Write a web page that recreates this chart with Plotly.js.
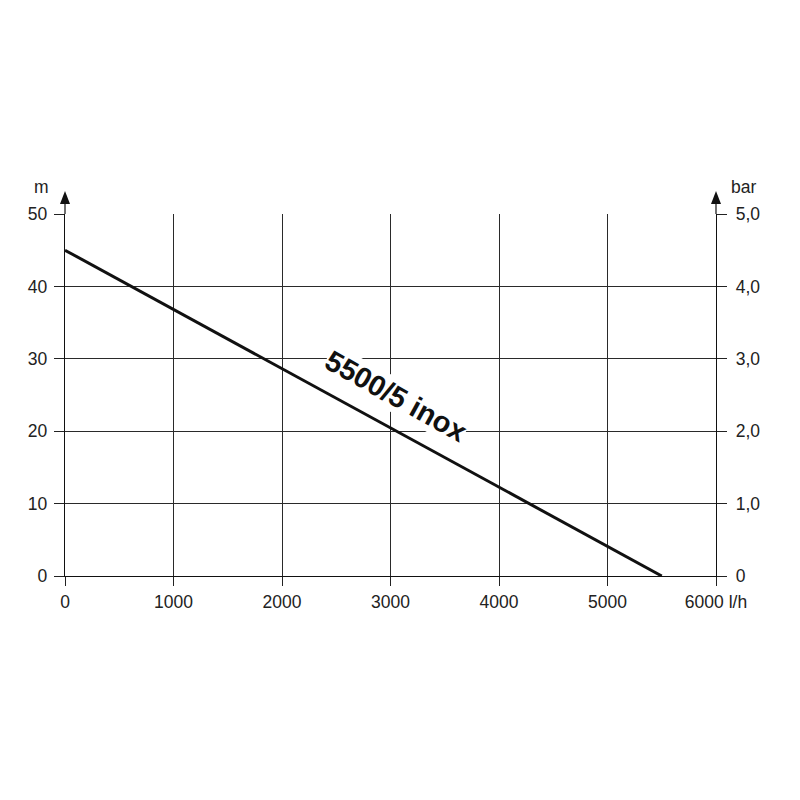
<!DOCTYPE html>
<html><head><meta charset="utf-8">
<script src="https://cdn.plot.ly/plotly-3.0.1.min.js"></script>
<style>html,body{margin:0;padding:0;background:#fff}#chart{width:800px;height:800px}</style>
</head><body><div id="chart"></div>
<script>
// Data
const flow = [0, 5500];          // l/h
const head = [45, 0];            // m
const headBar = [4.5, 0];        // bar
const xTicks = [0, 1000, 2000, 3000, 4000, 5000, 6000];
const xTickText = ["0", "1000", "2000", "3000", "4000", "5000", "6000 l/h"];
const yTicks = [0, 10, 20, 30, 40, 50];
const yTickText = ["0", "10", "20", "30", "40", "50"];
const y2Ticks = [0, 1, 2, 3, 4, 5];
const y2TickText = ["0", "1,0", "2,0", "3,0", "4,0", "5,0"];
const curveLabel = "5500/5 inox";

const fontFam = "Liberation Sans, Arial, sans-serif";
const ink = "#222";
const fs = 17.5;

const traces = [
  {x: flow, y: head, type: "scatter", mode: "lines", line: {color: "#111", width: 3}, hoverinfo: "skip", showlegend: false},
  {x: flow, y: headBar, yaxis: "y2", type: "scatter", mode: "lines", line: {color: "rgba(0,0,0,0)", width: 0}, hoverinfo: "skip", showlegend: false}
];

const plotW = 651, plotH = 362;
const px = p => p / plotW, py = p => p / plotH;

const arrow = (xp) => ({
  type: "path", xref: "paper", yref: "paper",
  path: `M ${xp - px(5)} ${1 + py(10)} L ${xp + px(5)} ${1 + py(10)} L ${xp} ${1 + py(23)} Z`,
  fillcolor: "#111", line: {color: "#111", width: 0}
});
const stem = (xp) => ({
  type: "line", xref: "paper", yref: "paper", x0: xp, x1: xp, y0: 1, y1: 1 + py(11),
  line: {color: "#111", width: 1.2}
});

const axisCommon = {
  zeroline: false, showline: true, linecolor: "#111", linewidth: 1.2,
  ticks: "outside", tickcolor: "#222", tickwidth: 1, fixedrange: true,
  tickfont: {size: fs, color: ink, family: fontFam}
};

const layout = {
  width: 800, height: 800,
  margin: {l: 65, r: 84, t: 214, b: 224, pad: 0},
  paper_bgcolor: "#fff", plot_bgcolor: "#fff",
  font: {family: fontFam, size: fs, color: ink},
  xaxis: Object.assign({}, axisCommon, {
    range: [0, 6000], tickvals: xTicks, ticktext: xTickText,
    showgrid: true, gridcolor: "#2a2a2a", gridwidth: 1,
    ticklen: 9, ticklabelstandoff: 1
  }),
  yaxis: Object.assign({}, axisCommon, {
    range: [0, 50], tickvals: yTicks, ticktext: yTickText,
    showgrid: true, gridcolor: "#2a2a2a", gridwidth: 1,
    ticklen: 10, ticklabelstandoff: 3
  }),
  yaxis2: Object.assign({}, axisCommon, {
    range: [0, 5], tickvals: y2Ticks, ticktext: y2TickText, overlaying: "y", side: "right",
    showgrid: false, ticklen: 10, ticklabelstandoff: 5
  }),
  shapes: [stem(0), stem(1), arrow(0), arrow(1)],
  annotations: [
    {xref: "x", yref: "y", x: 3050, y: 24.9, text: curveLabel, showarrow: false, textangle: 29,
     bgcolor: "#fff", borderpad: 0,
     font: {size: 29, color: "#111", family: fontFam, weight: "bold"}},
    {xref: "paper", yref: "paper", x: px(-24), y: 1 + py(214 - 187), text: "m", showarrow: false, xanchor: "center", yanchor: "middle", font: {size: fs, color: ink}},
    {xref: "paper", yref: "paper", x: 1 + px(27), y: 1 + py(214 - 187), text: "bar", showarrow: false, xanchor: "center", yanchor: "middle", font: {size: fs, color: ink}}
  ]
};

Plotly.newPlot("chart", traces, layout, {displayModeBar: false, staticPlot: true});
</script>
</body></html>
